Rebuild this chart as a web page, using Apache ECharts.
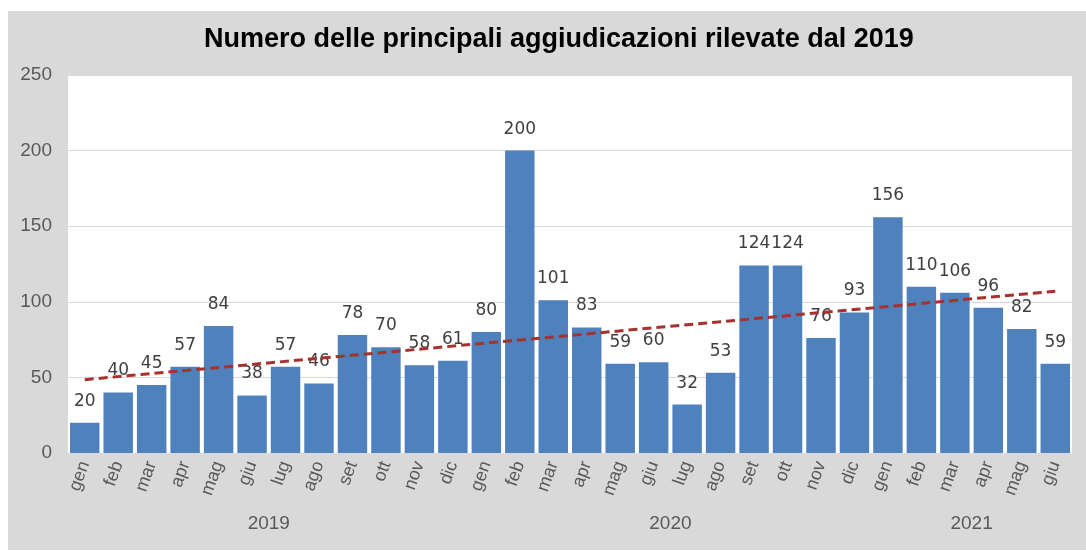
<!DOCTYPE html>
<html>
<head>
<meta charset="utf-8">
<script src="https://cdn.jsdelivr.net/npm/echarts@6/dist/echarts.min.js"></script>
<style>
  html, body { margin: 0; padding: 0; background: #fff; }
  #chart { position: absolute; left: 8px; top: 11px; width: 1078px; height: 539px; }
</style>
</head>
<body>
<div id="chart"></div>
<script>
var months = ['gen', 'feb', 'mar', 'apr', 'mag', 'giu', 'lug', 'ago', 'set', 'ott', 'nov', 'dic',
  'gen', 'feb', 'mar', 'apr', 'mag', 'giu', 'lug', 'ago', 'set', 'ott', 'nov', 'dic',
  'gen', 'feb', 'mar', 'apr', 'mag', 'giu']
var values = [20, 40, 45, 57, 84, 38, 57, 46, 78, 70, 58, 61,
  80, 200, 101, 83, 59, 60, 32, 53, 124, 124, 76, 93,
  156, 110, 106, 96, 82, 59]
var years = ['2019', '2020', '2021']
// month count for each year group
var yearSpans = [12, 12, 6]
// linear trend: value at first and last month
var trendEnds = [48.5, 107]
var yTicks = { min: 0, max: 250, step: 50 }

// year label positions = centre of each group on a 0..N scale
var yearPos = []
var acc = 0
yearSpans.forEach(function (n) {
  yearPos.push(acc + n / 2)
  acc += n
})

var trendData = values.map(function () { return null })
trendData[0] = trendEnds[0]
trendData[trendData.length - 1] = trendEnds[1]

var myChart = echarts.init(document.getElementById('chart'))
var option = {
  backgroundColor: '#d9d9d9',
  animation: false,
  title: {
    text: 'Numero delle principali aggiudicazioni rilevate dal 2019',
    left: 191,
    top: 10,
    textStyle: {
      fontFamily: 'Liberation Sans',
      fontWeight: 'bold',
      fontSize: 27,
      color: '#000'
    }
  },
  grid: {
    left: 60,
    right: 14,
    top: 64,
    bottom: 97,
    show: true,
    backgroundColor: '#ffffff',
    borderWidth: 0
  },
  xAxis: [{
    type: 'category',
    data: months,
    axisLine: { show: false },
    axisTick: { show: false },
    axisLabel: {
      rotate: 70,
      interval: 0,
      margin: 9,
      color: '#595959',
      fontFamily: 'Liberation Sans',
      fontSize: 18
    }
  }, {
    type: 'value',
    position: 'bottom',
    min: 0,
    max: values.length,
    axisLine: { show: false },
    axisTick: { show: false },
    splitLine: { show: false },
    axisLabel: {
      customValues: yearPos,
      margin: 61,
      color: '#595959',
      fontFamily: 'Liberation Sans',
      fontSize: 19,
      formatter: function (v) {
        return years[yearPos.indexOf(v)]
      }
    }
  }],
  yAxis: {
    type: 'value',
    min: yTicks.min,
    max: yTicks.max,
    interval: yTicks.step,
    axisLine: { show: false },
    axisTick: { show: false },
    splitLine: { lineStyle: { color: '#d9d9d9', width: 1 } },
    axisLabel: {
      margin: 16,
      color: '#595959',
      fontFamily: 'Liberation Sans',
      fontSize: 19
    }
  },
  series: [{
    type: 'bar',
    data: values,
    barCategoryGap: '12%',
    itemStyle: { color: '#4f81bd' },
    label: {
      show: true,
      position: 'top',
      distance: 13,
      color: '#404040',
      fontFamily: 'DejaVu Sans',
      fontSize: 17
    }
  }, {
    type: 'line',
    data: trendData,
    connectNulls: true,
    symbol: 'none',
    z: 5,
    lineStyle: { color: '#a5322e', width: 3, type: [9, 5] }
  }]
}
myChart.setOption(option)
</script>
</body>
</html>
